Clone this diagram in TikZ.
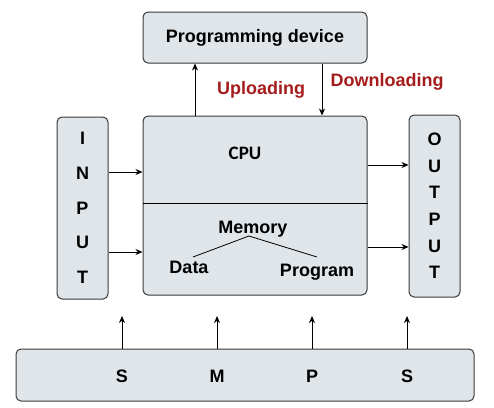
\documentclass[tikz,border=0pt]{standalone}
\usepackage{fontspec}
\setmainfont{Liberation Sans}
\newfontfamily\carl{Carlito}
\usetikzlibrary{arrows.meta}
\definecolor{boxfill}{HTML}{DFE5E9}
\definecolor{boxline}{HTML}{3A3A3A}
\definecolor{labred}{HTML}{A51C1C}
\begin{document}
\begin{tikzpicture}[x=1pt,y=-1pt,
  blk/.style={draw=boxline,fill=boxfill,rounded corners=5pt,line width=1pt,inner sep=0pt},
  txt/.style={font=\fontsize{18}{20}\selectfont\bfseries,inner sep=0pt,anchor=base},
  arr/.style={line width=0.8pt,-{Stealth[length=7pt,width=6pt]}},
  ln/.style={line width=0.8pt}]
\useasboundingbox (0,0) rectangle (494,407);
% boxes
\node[blk,minimum width=224pt,minimum height=51pt,font=\fontsize{18}{20}\selectfont\bfseries] (prog) at (255,37.5) {Programming device};
\node[blk,minimum width=224pt,minimum height=179pt] (cpu) at (255,205.5) {};
\node[blk,minimum width=51pt,minimum height=182pt,align=center,font=\fontsize{18}{34.75}\selectfont\bfseries] (inp) at (82.5,208) {I\\N\\P\\U\\T};
\node[blk,minimum width=51pt,minimum height=182pt,align=center,font=\fontsize{18}{26.6}\selectfont\bfseries] (outp) at (434.5,206) {O\\U\\T\\P\\U\\T};
\node[blk,minimum width=458pt,minimum height=52pt] (smps) at (245,375) {};
% labels
\node[txt,text=labred] (upl) at (261,94) {Uploading};
\node[txt,text=labred] (dnl) at (387,86) {Downloading};
\node[inner sep=0pt,anchor=base,font=\carl\bfseries\fontsize{19}{21}\selectfont] (cpul) at (245,159) {CPU};
\node[txt,text depth=3pt] (mem) at (253,233) {Memory};
\node[txt] (data) at (189,273) {Data};
\node[txt] (prg) at (317,276) {Program};
\node[txt] (s1) at (122,382) {S};
\node[txt] (m1) at (217,382) {M};
\node[txt] (p1) at (312,382) {P};
\node[txt] (s2) at (407,382) {S};
% coordinates
\coordinate (ux) at (195,0);
\coordinate (dx) at (322,0);
\coordinate (i1) at (0,172);
\coordinate (i2) at (0,252);
\coordinate (o1) at (0,165);
\coordinate (o2) at (0,247);
\coordinate (dv) at (0,203);
\coordinate (mj) at (249,236);
\coordinate (dj) at (193,257);
\coordinate (pj) at (317,257);
% connectors
\draw[arr] (ux |- cpu.north) -- (ux |- prog.south);
\draw[arr] (dx |- prog.south) -- (dx |- cpu.north);
\draw[arr] (inp.east |- i1) -- (cpu.west |- i1);
\draw[arr] (inp.east |- i2) -- (cpu.west |- i2);
\draw[arr] (cpu.east |- o1) -- (outp.west |- o1);
\draw[arr] (cpu.east |- o2) -- (outp.west |- o2);
\draw[ln] (cpu.west |- dv) -- (cpu.east |- dv);
\draw[ln] (mj) -- (dj);
\draw[ln] (mj) -- (pj);
\foreach \n/\x in {a/122,b/217,c/312,d/407}{
  \coordinate (t\n) at (\x,316);
  \draw[arr] (smps.north -| t\n) -- (t\n);
}
\end{tikzpicture}
\end{document}
